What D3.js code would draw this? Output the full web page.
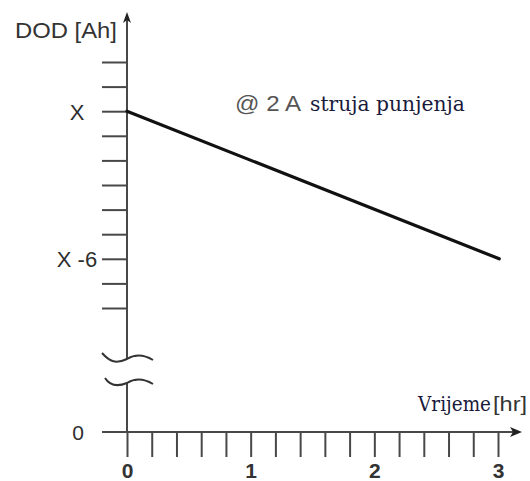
<!DOCTYPE html>
<html>
<head>
<meta charset="utf-8">
<script src="https://cdn.jsdelivr.net/npm/d3@7"></script>
<style>
body { margin:0; background:#fff; }
svg { display:block; }
.sans { font-family:"Liberation Sans", Arial, sans-serif; }
.serif { font-family:"DejaVu Serif", serif; }
</style>
</head>
<body>
<svg id="chart" width="530" height="481"></svg>
<script>
// vrijeme [hr] and DOD measured as offset from X [Ah]
var times = [0, 3.01];
var dodOffset = [0, -6];

var xTickValues = [0, 0.2, 0.4, 0.6, 0.8, 1, 1.2, 1.4, 1.6, 1.8, 2, 2.2, 2.4, 2.6, 2.8, 3];
var xTickLabels = {0: "0", 1: "1", 2: "2", 3: "3"};
var yTickValues = [2, 1, 0, -1, -2, -3, -4, -5, -6, -7, -8];
var yTickLabels = {"0": "X", "-6": "X -6"};

var svg = d3.select("#chart");

var x0 = 127, yBase = 432;
var x = d3.scaleLinear().domain([0, 3]).range([x0, 498]);
var y = d3.scaleLinear().domain([-8, 2]).range([308, 62]);
var axisColor = "#484848";

// y ticks (only the ticks, the axis line is drawn by hand because of the break)
var yAxis = svg.append("g")
	.attr("class", "sans")
	.attr("transform", "translate(" + x0 + ",0)")
	.call(d3.axisLeft(y)
		.tickValues(yTickValues)
		.tickSize(25)
		.tickFormat(function(d){ return yTickLabels[d] || ""; }));
yAxis.select(".domain").remove();
yAxis.selectAll(".tick line").attr("stroke", axisColor).attr("stroke-width", 2);
yAxis.selectAll(".tick text")
	.attr("x", 77 - x0)
	.attr("text-anchor", "middle")
	.attr("dy", "0.36em")
	.style("font-size", "22px")
	.attr("fill", "#2e2e2e");

// x ticks
var xAxis = svg.append("g")
	.attr("class", "sans")
	.attr("transform", "translate(0," + yBase + ")")
	.call(d3.axisBottom(x)
		.tickValues(xTickValues)
		.tickSize(25)
		.tickPadding(6)
		.tickFormat(function(d){ return xTickLabels[d] || ""; }));
xAxis.select(".domain").remove();
xAxis.selectAll(".tick line").attr("stroke", axisColor).attr("stroke-width", 2);
xAxis.selectAll(".tick text")
	.style("font-size", "21px")
	.style("font-weight", "bold")
	.attr("fill", "#333");

// axis lines
svg.append("line")
	.attr("x1", 102).attr("y1", yBase).attr("x2", 516).attr("y2", yBase)
	.attr("stroke", axisColor).attr("stroke-width", 2);
svg.append("path")
	.attr("d", "M522," + yBase + " L510," + (yBase - 5) + " L513," + yBase + " L510," + (yBase + 5) + "Z")
	.attr("fill", "#222");

svg.append("line")
	.attr("x1", x0).attr("y1", 20).attr("x2", x0).attr("y2", 359)
	.attr("stroke", axisColor).attr("stroke-width", 2);
svg.append("line")
	.attr("x1", x0).attr("y1", 383).attr("x2", x0).attr("y2", yBase)
	.attr("stroke", axisColor).attr("stroke-width", 2);
svg.append("path")
	.attr("d", "M" + x0 + ",12 L" + (x0 - 4) + ",23 L" + x0 + ",20 L" + (x0 + 4) + ",23Z")
	.attr("fill", "#222");

// axis break squiggles
svg.append("path")
	.attr("d", "M102,353 C110,362 116,364 127,359 C135,354 143,354 153,360")
	.attr("fill", "none").attr("stroke", "#333").attr("stroke-width", 2);
svg.append("path")
	.attr("d", "M105,378 C110,386 117,387 127,383 C135,378 143,378 153,384")
	.attr("fill", "none").attr("stroke", "#333").attr("stroke-width", 2);

// zero label for the broken axis
svg.append("text")
	.attr("class", "sans")
	.attr("x", 78).attr("y", yBase).attr("dy", "0.36em")
	.attr("text-anchor", "middle")
	.style("font-size", "21px")
	.attr("fill", "#2e2e2e")
	.text("0");

// data line
var line = d3.line()
	.x(function(d, i){ return x(times[i]); })
	.y(function(d){ return y(d); });
svg.append("path")
	.datum(dodOffset)
	.attr("d", line)
	.attr("fill", "none")
	.attr("stroke", "#111")
	.attr("stroke-width", 3.2)
	.attr("stroke-linecap", "round");

// text squeezed/stretched horizontally to a given width
function fitText(cls, str, px, fill, tx, ty, width, anchor){
	var t = svg.append("text")
		.attr("class", cls)
		.attr("text-anchor", anchor || "start")
		.style("font-size", px + "px")
		.attr("fill", fill)
		.text(str);
	var w = t.node().getComputedTextLength();
	t.attr("transform", "translate(" + tx + "," + ty + ") scale(" + (width / w) + ",1)");
	return t;
}

fitText("sans", "DOD [Ah]", 22, "#333", 15, 38, 102);

fitText("serif", "Vrijeme", 20, "#1a1a3c", 491, 411, 73, "end");
fitText("sans", "[hr]", 21, "#333", 527, 411, 34, "end");

fitText("sans", "@ 2 A", 22, "#555", 235, 111, 66);
fitText("serif", "struja punjenja", 20, "#1a1a3c", 310, 111, 155);
</script>
</body>
</html>
